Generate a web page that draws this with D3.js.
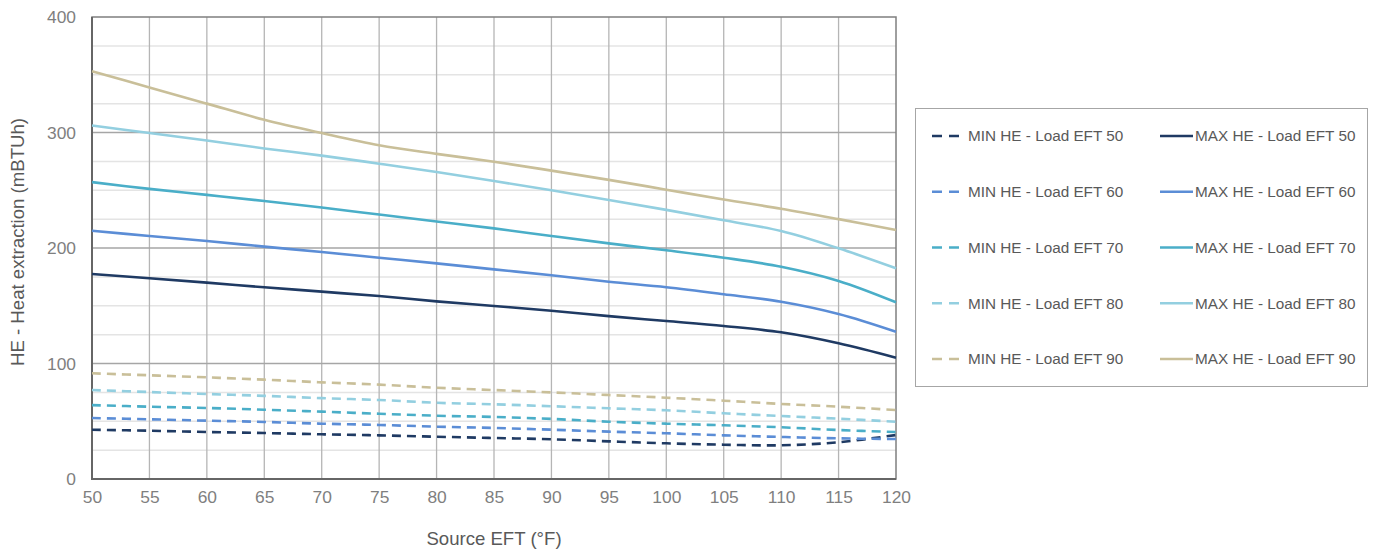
<!DOCTYPE html>
<html>
<head>
<meta charset="utf-8">
<script src="https://cdn.jsdelivr.net/npm/d3@7"></script>
<style>
  html, body { margin: 0; padding: 0; background: #fff; }
  svg { display: block; font-family: "Liberation Sans", Arial, sans-serif; }
</style>
</head>
<body>
<svg id="chart" width="1379" height="549"></svg>
<script>
// Source entering fluid temperature (°F)
const sourceEFT = [50, 55, 60, 65, 70, 75, 80, 85, 90, 95, 100, 105, 110, 115, 120];

// Maximum heat extraction (mBTUh) by load EFT
const max50 = [177.5, 173.8, 170, 166, 162.2, 158.4, 153.8, 149.8, 145.7, 141, 136.8, 132.5, 127, 117.5, 105];
const max60 = [215, 210.4, 206, 201.2, 196.5, 191.6, 186.7, 181.5, 176.4, 170.8, 166, 160, 153.5, 142.9, 127.5];
const max70 = [257, 251.2, 246, 240.7, 235, 229, 223, 217, 210.4, 204, 198, 191.6, 183.8, 171.5, 153];
const max80 = [306, 299.6, 293, 286.2, 280, 273, 265.8, 258, 250, 241.6, 233, 224, 214.7, 199.7, 182.4];
const max90 = [353, 339, 325, 311, 299.5, 289, 281.5, 274.7, 267, 259, 250.5, 242, 234, 225, 215.6];

// Minimum heat extraction (mBTUh) by load EFT
const min50 = [42.7, 41.8, 40.7, 39.8, 38.7, 37.8, 36.6, 35.5, 34.4, 32.6, 30.9, 29.7, 29.2, 31.8, 38.1];
const min60 = [52.8, 51.7, 50.5, 49.4, 47.9, 46.8, 45.3, 44.2, 42.7, 41, 39.6, 37.8, 36.4, 35.2, 34.6];
const min70 = [64, 62.6, 61.5, 60, 58.3, 56.5, 54.8, 53.7, 52, 49.6, 47.9, 46.5, 44.8, 42.4, 40.7];
const min80 = [77, 75.3, 73.6, 72, 70, 68.4, 66, 64.7, 63, 61.2, 59.5, 56.9, 54.5, 52.2, 49.6];
const min90 = [91.5, 89.8, 88, 86, 83.7, 81.7, 79, 77, 75, 72.7, 70.4, 67.8, 65, 62.6, 59.7];

const xTicks = [50, 55, 60, 65, 70, 75, 80, 85, 90, 95, 100, 105, 110, 115, 120];
const yTicks = [0, 100, 200, 300, 400];
const yMinor = [25, 50, 75, 125, 150, 175, 225, 250, 275, 325, 350, 375];

const loadEFT = [50, 60, 70, 80, 90];
const colors = ["#1f3a63", "#5b8dd6", "#4aaec8", "#93cfe0", "#c9bf99"];
const minSeries = [min50, min60, min70, min80, min90];
const maxSeries = [max50, max60, max70, max80, max90];

const svg = d3.select("#chart");
const plot = { left: 92, right: 896, top: 17, bottom: 479 };

const x = d3.scaleLinear().domain([50, 120]).range([plot.left, plot.right]);
const y = d3.scaleLinear().domain([0, 400]).range([plot.bottom, plot.top]);

// Minor horizontal gridlines
svg.append("g").selectAll("line").data(yMinor).join("line")
  .attr("x1", plot.left).attr("x2", plot.right)
  .attr("y1", d => y(d)).attr("y2", d => y(d))
  .attr("stroke", "#e4e4e4").attr("stroke-width", 1.5);

// Vertical gridlines
svg.append("g").selectAll("line").data(xTicks.slice(1, -1)).join("line")
  .attr("x1", d => x(d)).attr("x2", d => x(d))
  .attr("y1", plot.top).attr("y2", plot.bottom)
  .attr("stroke", "#b5b5b5").attr("stroke-width", 1.3);

// Major horizontal gridlines
svg.append("g").selectAll("line").data(yTicks.slice(1, -1)).join("line")
  .attr("x1", plot.left).attr("x2", plot.right)
  .attr("y1", d => y(d)).attr("y2", d => y(d))
  .attr("stroke", "#a6a6a6").attr("stroke-width", 1.3);

// Plot frame
svg.append("rect")
  .attr("x", plot.left).attr("y", plot.top)
  .attr("width", plot.right - plot.left).attr("height", plot.bottom - plot.top)
  .attr("fill", "none").attr("stroke", "#7f7f7f").attr("stroke-width", 1.5);
svg.append("path")
  .attr("d", `M${plot.left},${plot.top}V${plot.bottom}H${plot.right}`)
  .attr("fill", "none").attr("stroke", "#666").attr("stroke-width", 2);

// Axes
const xAxis = svg.append("g").attr("transform", `translate(0,${plot.bottom})`)
  .call(d3.axisBottom(x).tickValues(xTicks).tickSize(0).tickPadding(12));
const yAxis = svg.append("g").attr("transform", `translate(${plot.left},0)`)
  .call(d3.axisLeft(y).tickValues(yTicks).tickSize(0).tickPadding(16));
[xAxis, yAxis].forEach(a => {
  a.select(".domain").remove();
  a.selectAll("text").attr("fill", "#7f7f7f").style("font-size", "17.4px");
});

// Axis titles
svg.append("text")
  .attr("x", (plot.left + plot.right) / 2).attr("y", 545)
  .attr("text-anchor", "middle").attr("fill", "#595959")
  .style("font-size", "18.6px").text("Source EFT (°F)");
svg.append("text")
  .attr("transform", `translate(24,${(plot.top + plot.bottom) / 2 - 6}) rotate(-90)`)
  .attr("text-anchor", "middle").attr("fill", "#595959")
  .style("font-size", "18.6px").text("HE - Heat extraction (mBTUh)");

// Series lines
const line = d3.line()
  .x((d, i) => x(sourceEFT[i]))
  .y(d => y(d))
  .curve(d3.curveCatmullRom.alpha(0.5));

const lines = svg.append("g");
minSeries.forEach((s, k) => {
  lines.append("path").datum(s)
    .attr("d", line).attr("fill", "none")
    .attr("stroke", colors[k]).attr("stroke-width", 2.6)
    .attr("stroke-dasharray", "9,6");
});
maxSeries.forEach((s, k) => {
  lines.append("path").datum(s)
    .attr("d", line).attr("fill", "none")
    .attr("stroke", colors[k]).attr("stroke-width", 2.6);
});

// Legend
const legend = svg.append("g");
legend.append("rect")
  .attr("x", 915.5).attr("y", 108.5).attr("width", 452).attr("height", 278)
  .attr("fill", "#fff").attr("stroke", "#a6a6a6").attr("stroke-width", 1);

const rowY = d3.scalePoint().domain(loadEFT).range([136, 359]);
loadEFT.forEach((t, k) => {
  const ry = rowY(t);
  legend.append("line")
    .attr("x1", 932).attr("x2", 960).attr("y1", ry).attr("y2", ry)
    .attr("stroke", colors[k]).attr("stroke-width", 2.6)
    .attr("stroke-dasharray", "10,7");
  legend.append("text")
    .attr("x", 968).attr("y", ry).attr("dy", "0.35em")
    .attr("fill", "#595959").style("font-size", "15.3px")
    .text(`MIN HE - Load EFT ${t}`);
  legend.append("line")
    .attr("x1", 1160).attr("x2", 1193).attr("y1", ry).attr("y2", ry)
    .attr("stroke", colors[k]).attr("stroke-width", 2.6);
  legend.append("text")
    .attr("x", 1195).attr("y", ry).attr("dy", "0.35em")
    .attr("fill", "#595959").style("font-size", "15.3px")
    .text(`MAX HE - Load EFT ${t}`);
});
</script>
</body>
</html>
